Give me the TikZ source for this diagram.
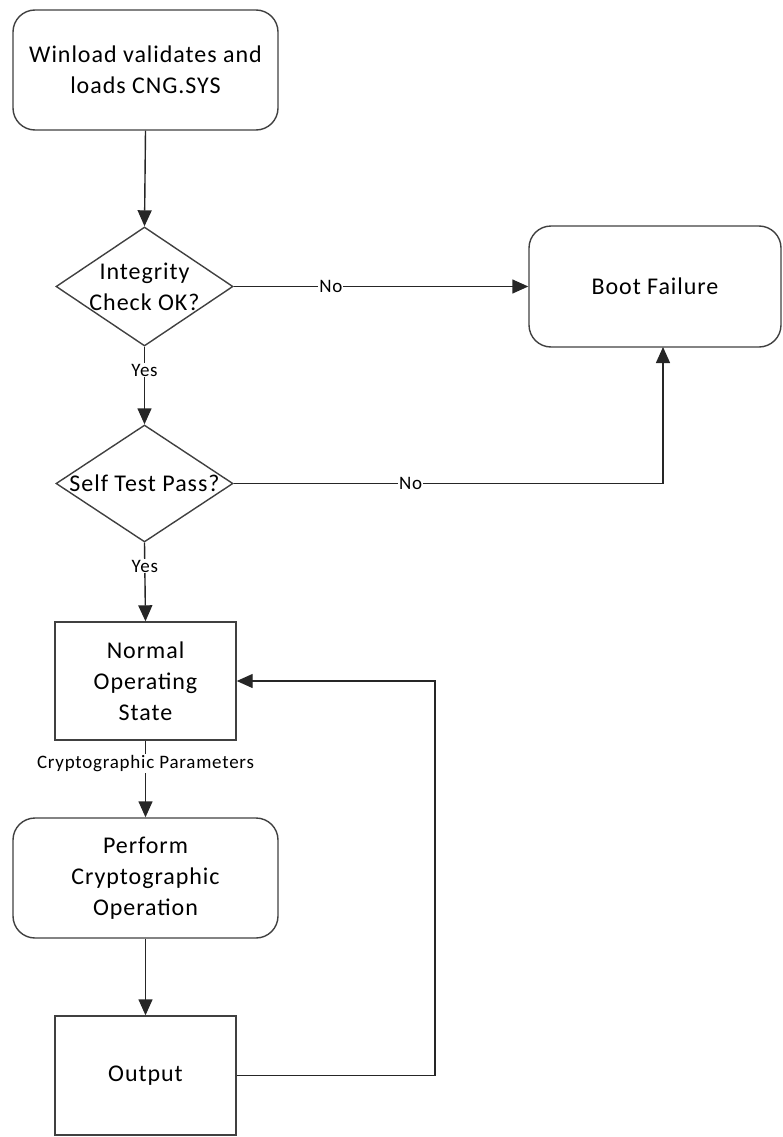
\documentclass[tikz,border=0pt]{standalone}
\usepackage{fontspec}
\setmainfont{Carlito}[LetterSpace=4]
\usetikzlibrary{shapes.geometric,arrows.meta}
\begin{document}
\begin{tikzpicture}[x=1pt,y=-1pt,
  box/.style={draw=black!75,line width=1.4pt,align=center,inner sep=0pt,font=\fontsize{24}{31}\selectfont},
  rbox/.style={box,rounded corners=22pt},
  dia/.style={draw=black!75,line width=1.4pt,diamond,inner sep=0pt},
  dtext/.style={align=center,font=\fontsize{24}{31}\selectfont},
  lab/.style={fill=white,inner sep=1pt,font=\fontsize{19}{22}\selectfont},
  conn/.style={draw=black!85,line width=1.4pt},
  arr/.style={conn,-{Triangle[length=16pt,width=14pt]}}]
\useasboundingbox (0,0) rectangle (782,1137);
\node[rbox,minimum width=265pt,minimum height=120pt] (start) at (145.5,70) {Winload validates and\\loads CNG.SYS};
\node[dia,minimum width=177pt,minimum height=119pt] (d1) at (144.5,286.5) {};
\node[dtext] (d1t) at (d1) {Integrity\\Check OK?};
\node[rbox,minimum width=252pt,minimum height=121pt] (boot) at (655,286.5) {Boot Failure};
\node[dia,minimum width=177pt,minimum height=117pt] (d2) at (144.5,483.5) {};
\node[dtext] (d2t) at (d2) {Self Test Pass?};
\node[box,minimum width=181pt,minimum height=118pt] (normal) at (145.5,681) {Normal\\Operating\\State};
\node[rbox,minimum width=265pt,minimum height=120pt] (perform) at (145.5,878) {Perform\\Cryptographic\\Operation};
\node[box,minimum width=181pt,minimum height=119pt] (output) at (145.5,1075.5) {Output};
\coordinate (bootin) at (663,347);
\coordinate (loopc) at (435,1075.5);
\draw[arr] (start.south) -- (d1.north);
\draw[arr] (d1.east) -- node[lab,pos=0.33] {No} (boot.west);
\draw[arr] (d1.south) -- node[lab,pos=0.3] {Yes} (d2.north);
\draw[arr] (d2.east) -| node[lab,pos=0.206] {No} (bootin);
\draw[arr] (d2.south) -- node[lab,pos=0.3] {Yes} (normal.north);
\draw[arr] (normal.south) -- node[lab,pos=0.3] {Cryptographic Parameters} (perform.north);
\draw[arr] (perform.south) -- (output.north);
\draw[arr] (output.east) -- (loopc) |- (normal.east);
\end{tikzpicture}
\end{document}
